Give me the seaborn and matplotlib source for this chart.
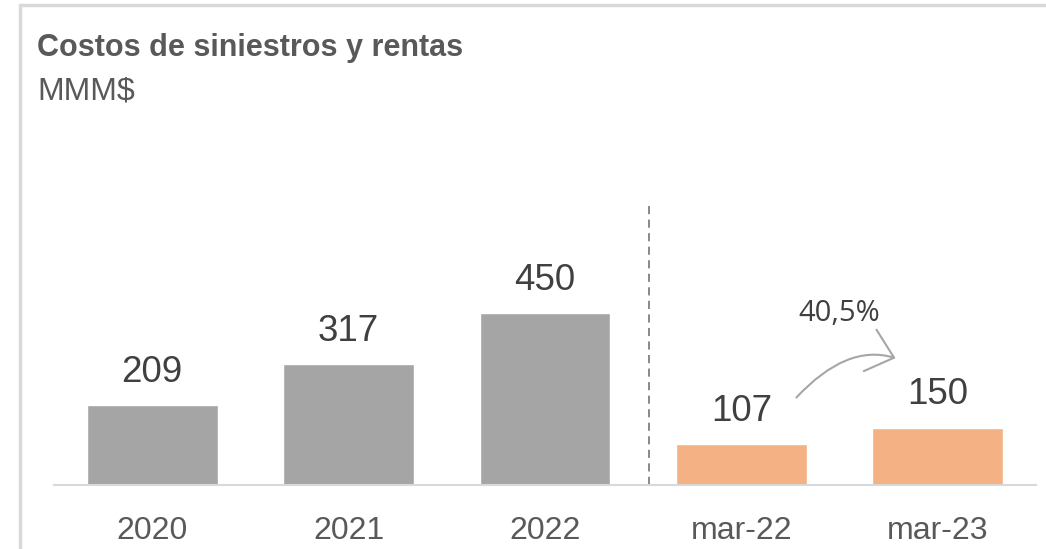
import matplotlib
matplotlib.use("Agg")
import matplotlib.pyplot as plt
import seaborn as sns
import pandas as pd
from matplotlib.patches import Rectangle

categories = ["2020", "2021", "2022", "mar-22", "mar-23"]
values = [209, 317, 450, 107, 150]
bar_colors = ["#A5A5A5", "#A5A5A5", "#A5A5A5", "#F4B183", "#F4B183"]
growth_label = "40,5%"

sns.set_theme(style="white")
plt.rcParams['font.family'] = ['Liberation Sans', 'DejaVu Sans']

df = pd.DataFrame({"cat": categories, "val": values})

fig = plt.figure(figsize=(10.46, 5.49), dpi=100)
ax = fig.add_axes([54 / 1046, 64 / 549, (1036 - 54) / 1046, (485 - 200) / 549])

sns.barplot(data=df, x="cat", y="val", hue="cat", palette=bar_colors,
            order=categories, hue_order=categories, legend=False,
            width=0.667, ax=ax, saturation=1)

ax.set_xlim(-0.5, 4.5)
ax.set_ylim(0, 746)
for s in ["top", "right", "left"]:
    ax.spines[s].set_visible(False)
ax.spines["bottom"].set_color("#D9D9D9")
ax.spines["bottom"].set_linewidth(1.5)
ax.set_yticks([])
ax.set_xlabel("")
ax.set_ylabel("")
ax.tick_params(axis="x", length=0, pad=22, labelsize=23, labelcolor="#595959")

for i, v in enumerate(values):
    ax.annotate(f"{v}", (i, v), xytext=(0, 11), textcoords="offset points",
                ha="center", va="bottom", fontsize=26.5, color="#404040")

# dashed separator
ax.plot([2.53, 2.53], [0, 733], ls=(0, (4.5, 3)), color="#7F7F7F", lw=1.3)

# growth arrow
ax.annotate("", xy=(3.785, 332), xytext=(3.28, 229),
            arrowprops=dict(arrowstyle="->,head_length=1.5,head_width=1.3",
                            color="#A6A6A6", lw=1.5, shrinkA=0, shrinkB=0,
                            connectionstyle="angle3,angleA=47,angleB=-17"))
ax.text(3.5, 450, growth_label, ha="center", va="center", fontsize=21,
        color="#404040", family=["Open Sans", "DejaVu Sans"])

# title and subtitle
fig.text(37 / 1046, 1 - 56 / 549, "Costos de siniestros y rentas", fontsize=22,
         fontweight="bold", color="#595959", va="baseline", ha="left")
fig.text(37 / 1046, 1 - 99 / 549, "MMM$", fontsize=23, color="#595959",
         va="baseline", ha="left")

# outer frame (extends beyond right and bottom edges)
fig.patches.append(Rectangle((20 / 1046, -0.1), 1.2, 1 - 5 / 549 + 0.1,
                             transform=fig.transFigure, fill=False,
                             edgecolor="#D9D9D9", lw=2.5, clip_on=False))

fig.savefig("out.png", dpi=100)
